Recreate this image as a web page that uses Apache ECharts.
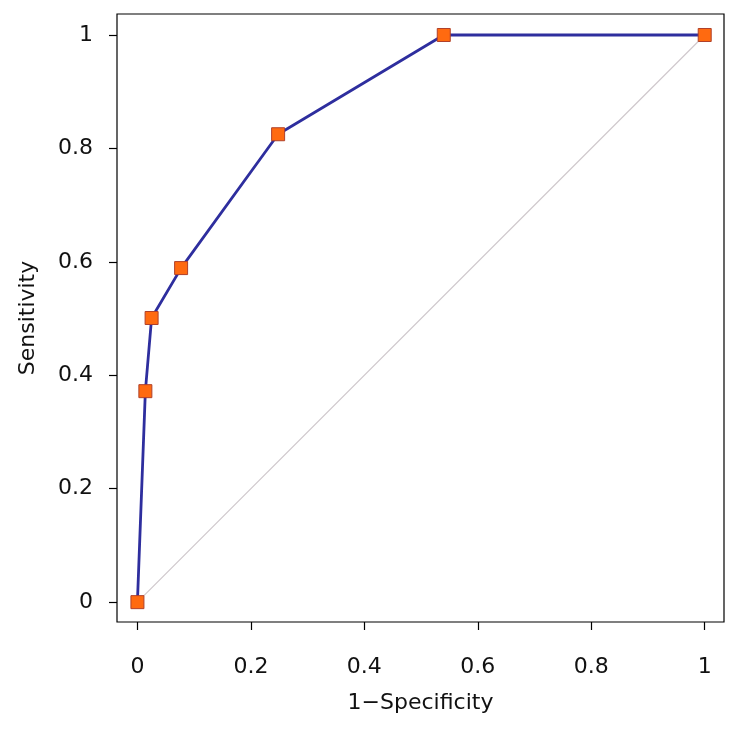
<!DOCTYPE html>
<html><head><meta charset="utf-8">
<script src="https://cdn.jsdelivr.net/npm/echarts@6/dist/echarts.min.js"></script>
<style>html,body{margin:0;padding:0;background:#fff}#c{width:741px;height:730px}</style>
</head><body><div id="c"></div>
<script>
const fpr = [0, 0.014, 0.025, 0.077, 0.248, 0.540, 1];
const tpr = [0, 0.372, 0.501, 0.589, 0.825, 1, 1];
const refX = [0, 1];
const refY = [0, 1];
const tickVals = [0, 0.2, 0.4, 0.6, 0.8, 1];
const xTitle = '1−Specificity';
const yTitle = 'Sensitivity';

const fmt = v => (Math.abs(v) < 1e-9 ? '0' : (Math.abs(v - 1) < 1e-9 ? '1' : String(Math.round(v * 10) / 10)));
const font = 'DejaVu Sans, Verdana, sans-serif';
const chart = echarts.init(document.getElementById('c'), null, {renderer: 'canvas'});
chart.setOption({
  animation: false,
  backgroundColor: '#fff',
  grid: {left: 117, right: 17, top: 14, bottom: 108, show: true, borderColor: '#000', borderWidth: 1.2, backgroundColor: 'transparent'},
  xAxis: {
    type: 'value', min: -0.036, max: 1.034, position: 'bottom',
    name: xTitle, nameLocation: 'middle', nameGap: 70,
    nameTextStyle: {fontFamily: font, fontSize: 22, color: '#111'},
    axisLine: {show: false, onZero: false},
    axisTick: {show: true, inside: false, length: 8, customValues: tickVals, lineStyle: {color: '#000', width: 1.2}},
    axisLabel: {customValues: tickVals, formatter: fmt, margin: 34, fontFamily: font, fontSize: 22, color: '#111'},
    splitLine: {show: false}
  },
  yAxis: {
    type: 'value', min: -0.035, max: 1.037, position: 'left',
    name: yTitle, nameLocation: 'middle', nameGap: 78, nameRotate: 90,
    nameTextStyle: {fontFamily: font, fontSize: 22, color: '#111'},
    axisLine: {show: false, onZero: false},
    axisTick: {show: true, inside: false, length: 8, customValues: tickVals, lineStyle: {color: '#000', width: 1.2}},
    axisLabel: {customValues: tickVals, formatter: fmt, margin: 24, fontFamily: font, fontSize: 22, color: '#111'},
    splitLine: {show: false}
  },
  series: [
    {type: 'line', data: refX.map((x, i) => [x, refY[i]]), symbol: 'none', silent: true,
     lineStyle: {color: '#cfc8cc', width: 1.2}, z: 1},
    {type: 'line', data: fpr.map((x, i) => [x, tpr[i]]), symbol: 'rect', symbolSize: 13,
     lineStyle: {color: '#2e2e9e', width: 2.8},
     itemStyle: {color: '#ff6a10', borderColor: '#b0402a', borderWidth: 1}, z: 3}
  ]
});
</script></body></html>
